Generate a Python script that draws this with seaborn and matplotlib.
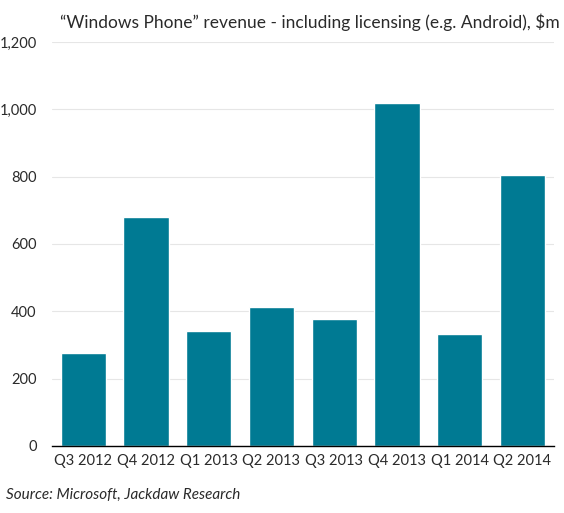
import pandas as pd
import numpy as np
import matplotlib.pyplot as plt
import seaborn as sns

quarters = ['Q3 2012', 'Q4 2012', 'Q1 2013', 'Q2 2013', 'Q3 2013', 'Q4 2013', 'Q1 2014', 'Q2 2014']
revenue = [276, 680, 342, 413, 377, 1019, 333, 805]

df = pd.DataFrame({'quarter': quarters, 'revenue': revenue})

sns.set_style('white')
plt.rcParams['font.family'] = ['Lato', 'DejaVu Sans']

fig = plt.figure(figsize=(5.64, 5.13), dpi=100)
ax = fig.add_axes([0.092, 0.131, 0.890, 0.787])

sns.barplot(data=df, x='quarter', y='revenue', color='#007A93', saturation=1, width=0.72, ax=ax)

ax.set_ylim(0, 1200)
ax.set_xlim(-0.5, 7.5)
ax.set_yticks(range(0, 1201, 200))
ax.set_yticklabels([f'{v:,}' for v in range(0, 1201, 200)], fontsize=10.5, color='#2a2a2a')
ax.tick_params(axis='x', labelsize=10.5, labelcolor='#2a2a2a', length=0, pad=6)
ax.tick_params(axis='y', length=0, pad=11)
ax.yaxis.grid(True, color='#e6e6e6', linewidth=0.8)
ax.set_axisbelow(True)
for s in ['top', 'right', 'left']:
    ax.spines[s].set_visible(False)
ax.spines['bottom'].set_color('black')
ax.spines['bottom'].set_linewidth(1)
ax.set_xlabel('')
ax.set_ylabel('')

fig.text(0.993, 0.957, '\u201cWindows Phone\u201d revenue - including licensing (e.g. Android), $m',
         ha='right', va='center', fontsize=12.5, color='#2a2a2a')
fig.text(0.01, 0.035, 'Source: Microsoft, Jackdaw Research', ha='left', va='center',
         fontsize=11, style='italic', color='#2a2a2a')

fig.savefig('out.png', dpi=100)
